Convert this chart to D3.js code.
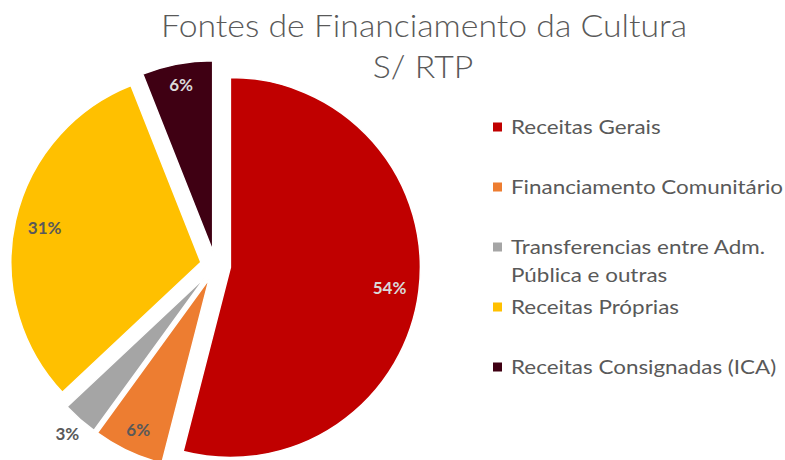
<!DOCTYPE html>
<html lang="pt">
<head>
<meta charset="utf-8">
<script src="https://d3js.org/d3.v7.min.js"></script>
<style>
  body { margin: 0; background: #fff; }
  text { font-family: Lato, "Open Sans", sans-serif; }
</style>
</head>
<body>
<script>
// data
const categories = ["Receitas Gerais", "Financiamento Comunitário", "Transferencias entre Adm. Pública e outras", "Receitas Próprias", "Receitas Consignadas (ICA)"];
const legendLines = [["Receitas Gerais"], ["Financiamento Comunitário"], ["Transferencias entre Adm.", "Pública e outras"], ["Receitas Próprias"], ["Receitas Consignadas (ICA)"]];
const shares = [54, 6, 3, 31, 6];
const percentLabels = ["54%", "6%", "3%", "31%", "6%"];
const colors = ["#c00000", "#ed7d31", "#a5a5a5", "#ffc000", "#3f0013"];
const labelColors = ["#d9d9d9", "#595959", "#595959", "#595959", "#d9d9d9"];
const titleLines = ["Fontes de Financiamento da Cultura", "S/ RTP"];

const width = 785, height = 460;
const cx = 215.5, cy = 265.5, radius = 190, explode = 15;

const svg = d3.select("body").append("svg")
  .attr("width", width)
  .attr("height", height);

// title
const title = svg.append("g").attr("fill", "#595959");
const t1 = title.append("text")
  .attr("x", 424).attr("y", 37.3)
  .attr("text-anchor", "middle")
  .attr("font-size", 31).attr("font-weight", 300)
  .text(titleLines[0]);
const t2 = title.append("text")
  .attr("x", 423).attr("y", 78.3)
  .attr("text-anchor", "middle")
  .attr("font-size", 31).attr("font-weight", 300)
  .text(titleLines[1]);
// squeeze to the narrow look of the original title font
const k = 526 / t1.node().getComputedTextLength();
t1.attr("textLength", 526).attr("lengthAdjust", "spacingAndGlyphs");
t2.attr("textLength", t2.node().getComputedTextLength() * k).attr("lengthAdjust", "spacingAndGlyphs");

// pie
const pie = d3.pie().sort(null).value(d => d)(shares);
const arc = d3.arc().innerRadius(0).outerRadius(radius);

const slices = svg.append("g").selectAll("g")
  .data(pie)
  .join("g")
  .attr("transform", d => {
    const mid = (d.startAngle + d.endAngle) / 2;
    return "translate(" + (cx + explode * Math.sin(mid)) + "," + (cy - explode * Math.cos(mid)) + ")";
  });

slices.append("path")
  .attr("d", arc)
  .attr("fill", (d, i) => colors[i])
  .attr("stroke", "#fff")
  .attr("stroke-width", 1.5);

// percentage labels, inside end (outside end for the thin slice)
slices.append("text")
  .attr("text-anchor", "middle")
  .attr("dominant-baseline", "central")
  .attr("font-size", 17)
  .attr("font-weight", 700)
  .attr("fill", (d, i) => labelColors[i])
  .text((d, i) => percentLabels[i])
  .each(function (d) {
    const mid = (d.startAngle + d.endAngle) / 2;
    const w = this.getComputedTextLength();
    const proj = Math.abs(Math.sin(mid)) * w / 2 + Math.abs(Math.cos(mid)) * 7;
    const outside = d.value < 5;
    const lr = outside ? radius + 6 + proj : radius - 12 - proj;
    d3.select(this)
      .attr("x", lr * Math.sin(mid))
      .attr("y", -lr * Math.cos(mid));
  });

// legend
const legend = svg.append("g");
const items = legend.selectAll("g")
  .data(categories)
  .join("g")
  .attr("transform", (d, i) => "translate(493," + (134 + i * 60) + ")");

items.append("rect")
  .attr("x", 0).attr("y", -11.5)
  .attr("width", 9).attr("height", 9)
  .attr("fill", (d, i) => colors[i]);

const labels = items.append("text")
  .attr("x", 18)
  .attr("font-size", 20)
  .attr("fill", "#595959");

labels.selectAll("tspan")
  .data((d, i) => legendLines[i])
  .join("tspan")
  .attr("x", 18)
  .attr("dy", (d, j) => j === 0 ? 0 : 28.3)
  .text(d => d);

// stretch so the widest entry matches the original legend width
let longest = 0;
labels.selectAll("tspan").each(function () { longest = Math.max(longest, this.getComputedTextLength()); });
const s = 272 / longest;
labels.selectAll("tspan").each(function () {
  const w = this.getComputedTextLength();
  d3.select(this).attr("textLength", w * s).attr("lengthAdjust", "spacingAndGlyphs");
});
</script>
</body>
</html>
